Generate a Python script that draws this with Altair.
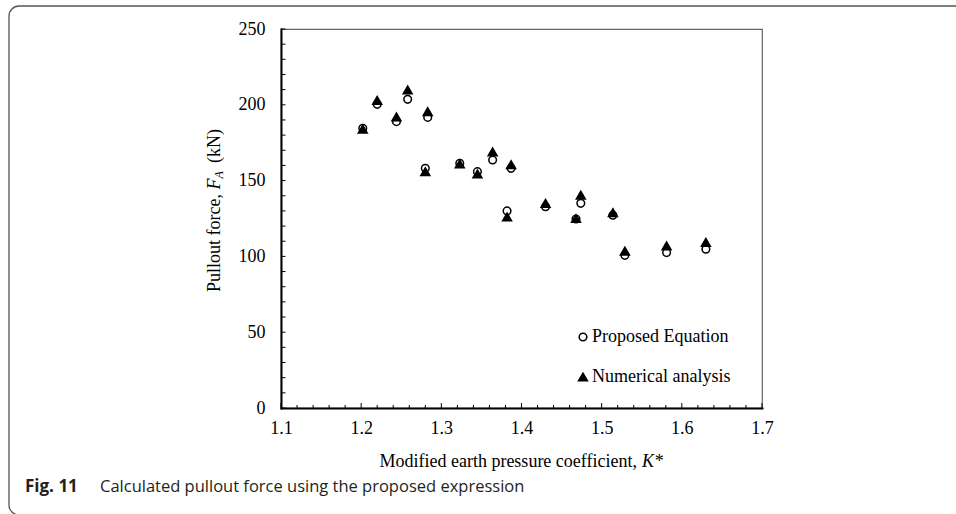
import altair as alt
import pandas as pd

# ---- data ----
k_star = [1.202, 1.220, 1.244, 1.258, 1.283, 1.280, 1.323, 1.345, 1.364,
          1.387, 1.382, 1.430, 1.468, 1.474, 1.514, 1.529, 1.581, 1.630]
proposed = [184.5, 200.3, 188.9, 203.6, 191.7, 158.1, 161.4, 155.9, 163.6,
            158.1, 130.0, 132.8, 124.7, 135.0, 127.1, 100.7, 102.5, 104.7]
numerical = [184.0, 203.0, 192.0, 209.8, 195.5, 155.9, 161.0, 154.4, 169.0,
             160.5, 126.0, 135.0, 125.0, 140.5, 128.8, 103.5, 107.0, 109.3]
series_names = ["Proposed Equation", "Numerical analysis"]

x_ticks = [1.1, 1.2, 1.3, 1.4, 1.5, 1.6, 1.7]
x_minor = [1.12, 1.14, 1.16, 1.18, 1.22, 1.24, 1.26, 1.28, 1.32, 1.34, 1.36, 1.38,
           1.42, 1.44, 1.46, 1.48, 1.52, 1.54, 1.56, 1.58, 1.62, 1.64, 1.66, 1.68]
y_ticks = [0, 50, 100, 150, 200, 250]
y_minor = [10, 20, 30, 40, 60, 70, 80, 90, 110, 120, 130, 140, 160, 170, 180, 190,
           210, 220, 230, 240]

caption_bold = "Fig. 11"
caption_text = "Calculated pullout force using the proposed expression"

# ---- layout ----
W, H = 481, 379
PL, PT = 281, 29
SERIF = "Liberation Serif"
FS = 18

rows = []
for name, vals in ((series_names[0], proposed), (series_names[1], numerical)):
    for k, f in zip(k_star, vals):
        rows.append({"k": k, "f": f, "series": name})
df = pd.DataFrame(rows)

x_scale = alt.Scale(domain=[1.1, 1.7], nice=False, zero=False)
y_scale = alt.Scale(domain=[0, 250], nice=False, zero=True)

x_axis = alt.Axis(values=x_ticks, format=".1f", title=None, ticks=False, tickSize=0,
                  grid=False, labelPadding=11, labelFont=SERIF, labelFontSize=FS,
                  labelFlush=False, labelOverlap=False,
                  labelColor="black", domainColor="black", domainWidth=2, domainCap="square")
y_axis = alt.Axis(values=y_ticks, format="d", title=None, ticks=False, tickSize=0,
                  grid=False, labelPadding=16, labelFont=SERIF, labelFontSize=FS,
                  labelFlush=False, labelOverlap=False,
                  labelColor="black", domainColor="black", domainWidth=2, domainCap="square")

legend = alt.Legend(orient="none", legendX=293, legendY=299, title=None,
                    labelFont=SERIF, labelFontSize=FS, labelColor="black",
                    rowPadding=22, labelOffset=0, padding=0,
                    symbolStrokeWidth=1.5)

points = alt.Chart(df).mark_point(filled=True, strokeWidth=1.5, opacity=1).encode(
    x=alt.X("k:Q", scale=x_scale, axis=x_axis),
    y=alt.Y("f:Q", scale=y_scale, axis=y_axis),
    shape=alt.Shape("series:N", scale=alt.Scale(domain=series_names, range=["circle", "triangle-up"]), legend=legend),
    fill=alt.Fill("series:N", scale=alt.Scale(domain=series_names, range=["white", "black"]), legend=legend),
    stroke=alt.Stroke("series:N", scale=alt.Scale(domain=series_names, range=["black", "black"]), legend=legend),
    size=alt.Size("series:N", scale=alt.Scale(domain=series_names, range=[58, 80]), legend=legend),
)

y_tick_rules = alt.Chart(pd.DataFrame({"v": y_ticks + y_minor})).mark_rule(color="black", strokeWidth=1).encode(
    y=alt.Y("v:Q", scale=y_scale, axis=y_axis), x=alt.value(0), x2=alt.value(4.5))
x_major_rules = alt.Chart(pd.DataFrame({"v": x_ticks})).mark_rule(color="black", strokeWidth=1).encode(
    x=alt.X("v:Q", scale=x_scale, axis=x_axis), y=alt.value(H), y2=alt.value(H - 5))
x_minor_rules = alt.Chart(pd.DataFrame({"v": x_minor})).mark_rule(color="black", strokeWidth=1).encode(
    x=alt.X("v:Q", scale=x_scale, axis=x_axis), y=alt.value(H), y2=alt.value(H - 3))


def txt(s, x, y, **kw):
    return alt.Chart(pd.DataFrame({"t": [s]})).mark_text(**kw).encode(
        text="t:N", x=alt.value(x), y=alt.value(y))


# x-axis title (K* italic)
x_split = 642 - PL
xt1 = txt("Modified earth pressure coefficient,", x_split - 5, 462 - PT, font=SERIF, fontSize=FS,
          align="right", baseline="middle", color="black")
xt2 = txt("K*", x_split, 462 - PT, font=SERIF, fontSize=FS, fontStyle="italic",
          align="left", baseline="middle", color="black")

# y-axis title (F_A with subscript), reading bottom to top
yx = 215 - PL
y0 = 292
yt1 = txt("Pullout force,", yx, y0 - PT, font=SERIF, fontSize=FS, angle=270,
          align="left", baseline="middle", color="black")
y1 = y0 - 102.5
yt2 = txt("F", yx, y1 - PT, font=SERIF, fontSize=FS, fontStyle="italic", angle=270,
          align="left", baseline="middle", color="black")
y2 = y1 - 11
yt3 = txt("A", yx + 4, y2 - PT, font=SERIF, fontSize=12, fontStyle="italic", angle=270,
          align="left", baseline="middle", color="black")
y3 = y2 - 7.5 - 8
yt4 = txt("(kN)", yx, y3 - PT, font=SERIF, fontSize=FS, angle=270,
          align="left", baseline="middle", color="black")

# caption
cap1 = txt(caption_bold, 25 - PL, 487 - PT, font="Open Sans", fontSize=17, fontWeight="bold",
           align="left", baseline="middle", color="#231f20")
cap2 = txt(caption_text, 100 - PL, 487 - PT, font="Open Sans", fontSize=16.5,
           align="left", baseline="middle", color="#231f20")

# outer rounded frame of the figure panel
frame = alt.Chart(pd.DataFrame({"a": [0]})).mark_rect(
    cornerRadius=10, fill="white", fillOpacity=0, stroke="#555555", strokeWidth=1.3).encode(
    x=alt.value(9 - PL), y=alt.value(6 - PT), x2=alt.value(956 - PL + 30), y2=alt.value(515 - PT))

chart = alt.layer(
    frame, y_tick_rules, x_major_rules, x_minor_rules, points,
    xt1, xt2, yt1, yt2, yt3, yt4, cap1, cap2
).properties(
    width=W, height=H,
    autosize=alt.AutoSizeParams(type="none"),
    padding={"left": PL, "top": PT, "right": 956 - PL - W, "bottom": 514 - PT - H},
    background="white",
).configure_view(
    stroke="#666666", strokeWidth=1.2
)

chart.save("out.html", embed_options={"renderer": "svg", "actions": False})
